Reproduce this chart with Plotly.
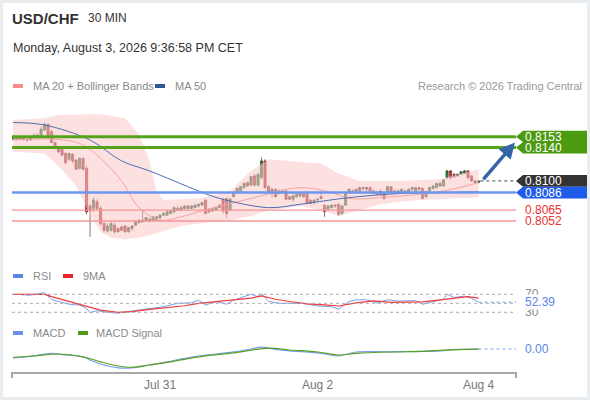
import plotly.graph_objects as go

# USD/CHF 30 min candles
opens = [
    0.8150, 0.8152, 0.8150, 0.8152, 0.8150, 0.8149, 0.8152, 0.8155, 0.8154, 0.8161,
    0.8168, 0.8159, 0.8146, 0.8141, 0.8138, 0.8133, 0.8126, 0.8132, 0.8125, 0.8115,
    0.8127, 0.8115, 0.8070, 0.8067, 0.8075, 0.8067, 0.8049, 0.8040, 0.8041, 0.8047,
    0.8043, 0.8045, 0.8046, 0.8039, 0.8046, 0.8047, 0.8050, 0.8051, 0.8052, 0.8054,
    0.8053, 0.8053, 0.8056, 0.8059, 0.8059, 0.8061, 0.8063, 0.8067, 0.8065, 0.8067,
    0.8070, 0.8067, 0.8068, 0.8070, 0.8071, 0.8077, 0.8063, 0.8067, 0.8065, 0.8068,
    0.8078, 0.8079, 0.8065, 0.8081, 0.8086, 0.8087, 0.8092, 0.8098, 0.8095, 0.8106,
    0.8095, 0.8104, 0.8124, 0.8093, 0.8086, 0.8090, 0.8085, 0.8088, 0.8088, 0.8081,
    0.8078, 0.8081, 0.8082, 0.8085, 0.8085, 0.8077, 0.8074, 0.8077, 0.8081, 0.8071,
    0.8066, 0.8068, 0.8071, 0.8072, 0.8061, 0.8071, 0.8086, 0.8086, 0.8090, 0.8088,
    0.8092, 0.8090, 0.8092, 0.8088, 0.8084, 0.8088, 0.8085, 0.8086, 0.8093, 0.8088,
    0.8085, 0.8087, 0.8088, 0.8086, 0.8090, 0.8087, 0.8092, 0.8091, 0.8081, 0.8088,
    0.8091, 0.8092, 0.8094, 0.8094, 0.8104, 0.8112, 0.8108, 0.8106, 0.8108, 0.8109,
    0.8112, 0.8106, 0.8100, 0.8098,
]
highs = [
    0.8153, 0.8153, 0.8153, 0.8153, 0.8152, 0.8153, 0.8157, 0.8157, 0.8165, 0.8170,
    0.8169, 0.8161, 0.8147, 0.8142, 0.8139, 0.8134, 0.8134, 0.8133, 0.8126, 0.8128,
    0.8128, 0.8118, 0.8072, 0.8080, 0.8078, 0.8070, 0.8051, 0.8049, 0.8051, 0.8050,
    0.8044, 0.8046, 0.8047, 0.8045, 0.8047, 0.8052, 0.8054, 0.8065, 0.8057, 0.8056,
    0.8058, 0.8058, 0.8060, 0.8063, 0.8064, 0.8065, 0.8070, 0.8070, 0.8070, 0.8071,
    0.8071, 0.8071, 0.8072, 0.8073, 0.8075, 0.8078, 0.8067, 0.8068, 0.8070, 0.8072,
    0.8080, 0.8080, 0.8080, 0.8087, 0.8092, 0.8094, 0.8098, 0.8099, 0.8106, 0.8108,
    0.8109, 0.8128, 0.8126, 0.8095, 0.8092, 0.8091, 0.8090, 0.8090, 0.8090, 0.8082,
    0.8084, 0.8085, 0.8086, 0.8086, 0.8086, 0.8078, 0.8078, 0.8079, 0.8088, 0.8072,
    0.8071, 0.8072, 0.8072, 0.8073, 0.8071, 0.8086, 0.8091, 0.8090, 0.8091, 0.8093,
    0.8093, 0.8093, 0.8093, 0.8090, 0.8088, 0.8090, 0.8086, 0.8094, 0.8094, 0.8090,
    0.8090, 0.8091, 0.8090, 0.8091, 0.8093, 0.8093, 0.8093, 0.8092, 0.8088, 0.8093,
    0.8095, 0.8098, 0.8099, 0.8102, 0.8113, 0.8113, 0.8109, 0.8109, 0.8112, 0.8113,
    0.8113, 0.8107, 0.8101, 0.8101,
]
lows = [
    0.8149, 0.8149, 0.8149, 0.8148, 0.8147, 0.8148, 0.8150, 0.8152, 0.8153, 0.8160,
    0.8153, 0.8145, 0.8138, 0.8133, 0.8129, 0.8120, 0.8124, 0.8121, 0.8113, 0.8114,
    0.8112, 0.8060, 0.8033, 0.8063, 0.8065, 0.8046, 0.8038, 0.8038, 0.8039, 0.8037,
    0.8038, 0.8040, 0.8038, 0.8038, 0.8040, 0.8046, 0.8049, 0.8050, 0.8051, 0.8051,
    0.8052, 0.8052, 0.8054, 0.8058, 0.8058, 0.8060, 0.8061, 0.8064, 0.8064, 0.8066,
    0.8066, 0.8066, 0.8067, 0.8068, 0.8070, 0.8060, 0.8061, 0.8063, 0.8064, 0.8067,
    0.8061, 0.8056, 0.8064, 0.8080, 0.8085, 0.8086, 0.8091, 0.8093, 0.8094, 0.8093,
    0.8093, 0.8102, 0.8090, 0.8085, 0.8080, 0.8080, 0.8084, 0.8085, 0.8077, 0.8077,
    0.8075, 0.8080, 0.8080, 0.8080, 0.8072, 0.8072, 0.8072, 0.8075, 0.8078, 0.8057,
    0.8065, 0.8067, 0.8068, 0.8058, 0.8059, 0.8070, 0.8085, 0.8085, 0.8086, 0.8087,
    0.8088, 0.8088, 0.8087, 0.8084, 0.8082, 0.8082, 0.8077, 0.8085, 0.8085, 0.8084,
    0.8084, 0.8086, 0.8084, 0.8085, 0.8088, 0.8086, 0.8088, 0.8078, 0.8080, 0.8087,
    0.8090, 0.8091, 0.8093, 0.8093, 0.8102, 0.8102, 0.8104, 0.8105, 0.8107, 0.8108,
    0.8102, 0.8099, 0.8097, 0.8097,
]
closes = [
    0.8152, 0.8150, 0.8152, 0.8150, 0.8149, 0.8152, 0.8155, 0.8154, 0.8162, 0.8168,
    0.8155, 0.8146, 0.8140, 0.8135, 0.8131, 0.8122, 0.8133, 0.8124, 0.8114, 0.8127,
    0.8114, 0.8063, 0.8064, 0.8077, 0.8067, 0.8049, 0.8041, 0.8046, 0.8049, 0.8039,
    0.8039, 0.8041, 0.8039, 0.8044, 0.8043, 0.8051, 0.8053, 0.8053, 0.8056, 0.8052,
    0.8057, 0.8057, 0.8059, 0.8061, 0.8063, 0.8064, 0.8068, 0.8065, 0.8068, 0.8070,
    0.8067, 0.8070, 0.8071, 0.8072, 0.8074, 0.8061, 0.8066, 0.8064, 0.8068, 0.8071,
    0.8064, 0.8061, 0.8078, 0.8086, 0.8091, 0.8093, 0.8097, 0.8094, 0.8105, 0.8095,
    0.8108, 0.8124, 0.8092, 0.8087, 0.8090, 0.8081, 0.8088, 0.8086, 0.8078, 0.8078,
    0.8082, 0.8084, 0.8085, 0.8081, 0.8073, 0.8073, 0.8077, 0.8078, 0.8079, 0.8063,
    0.8070, 0.8071, 0.8070, 0.8060, 0.8070, 0.8085, 0.8090, 0.8088, 0.8087, 0.8092,
    0.8091, 0.8092, 0.8088, 0.8085, 0.8087, 0.8084, 0.8079, 0.8093, 0.8086, 0.8085,
    0.8088, 0.8090, 0.8085, 0.8090, 0.8092, 0.8092, 0.8090, 0.8079, 0.8087, 0.8092,
    0.8094, 0.8097, 0.8097, 0.8101, 0.8112, 0.8104, 0.8105, 0.8108, 0.8111, 0.8112,
    0.8104, 0.8100, 0.8098, 0.8100,
]

# Bollinger bands / moving averages (sampled at candle indices)
band_idx = [0, 9, 13, 18, 22, 25, 28, 32, 36, 39, 41, 43, 48, 53, 62, 68, 73, 79,
            82, 88, 93, 99, 105, 111, 116, 122, 125, 133]
bb_upper = [0.8173, 0.8175, 0.8179, 0.8180, 0.8180, 0.8180, 0.8178, 0.8175, 0.8156,
            0.8124, 0.8088, 0.8077, 0.8078, 0.8079, 0.8088, 0.8112, 0.8126, 0.8124,
            0.8123, 0.8121, 0.8109, 0.8100, 0.8100, 0.8100, 0.8101, 0.8102, 0.8106, 0.8114]
bb_lower = [0.8135, 0.8133, 0.8118, 0.8094, 0.8059, 0.8039, 0.8032, 0.8030, 0.8032,
            0.8035, 0.8037, 0.8040, 0.8046, 0.8049, 0.8053, 0.8058, 0.8065, 0.8068,
            0.8070, 0.8065, 0.8058, 0.8065, 0.8072, 0.8075, 0.8077, 0.8078, 0.8079, 0.8080]
ma20_idx = [0, 11, 19, 25, 31, 36, 42, 48, 53, 68, 82, 91, 96, 105, 123, 133]
ma20 = [0.8149, 0.8150, 0.8145, 0.8127, 0.8100, 0.8068, 0.8053, 0.8057, 0.8063,
        0.8079, 0.8092, 0.8086, 0.8079, 0.8080, 0.8088, 0.8098]
ma50_idx = [0, 9, 22, 31, 39, 53, 59, 73, 82, 96, 111, 122, 133]
ma50 = [0.8170, 0.8167, 0.8149, 0.8124, 0.8112, 0.8088, 0.8079, 0.8068, 0.8072,
        0.8080, 0.8085, 0.8086, 0.8087]

# RSI panel
rsi_idx = [0, 5, 9, 11, 13, 16, 19, 21, 22, 24, 27, 30, 33, 36, 39, 43, 47, 51, 53, 55,
           58, 61, 63, 68, 70, 71, 73, 76, 79, 83, 87, 91, 93, 96, 98, 101, 104, 107, 110,
           113, 115, 117, 120, 123, 124, 126, 129, 131, 133]
rsi = [70, 68, 73.6, 58.6, 54, 48, 46, 39, 29, 33.6, 30, 28, 31.6, 35, 39, 42.6, 50, 51, 57, 46,
       54, 48, 57, 70, 64.8, 72, 54, 50, 50, 50, 44, 42.6, 36.7, 54, 57.8, 57.8, 51, 57.8, 55,
       55, 56, 48, 54, 59, 70, 63, 66, 61, 52.39]
rsi_ma_idx = [0, 9, 11, 16, 21, 25, 30, 34, 39, 44, 49, 53, 58, 63, 68, 71, 75, 79, 84, 89,
              93, 98, 103, 108, 113, 117, 122, 127, 130, 133]
rsi_ma = [70, 70, 65, 54, 43, 35, 30, 31.5, 36.7, 40, 44.6, 50, 54, 57.8, 61.5, 66.7, 59, 54,
          48.9, 46.7, 44, 51, 55.6, 52, 52, 53, 57.8, 61.5, 65, 61.5]
rsi_levels = [70, 50, 30]

# MACD panel
macd_idx = [0, 6, 11, 15, 20, 22, 25, 30, 34, 39, 44, 49, 53, 58, 63, 68, 71, 75, 79, 87,
            93, 98, 108, 117, 122, 127, 133]
macd = [-0.00044, -0.00034, -0.00022, -0.00030, -0.00039, -0.00055, -0.00075, -0.00094,
        -0.00094, -0.00080, -0.00064, -0.00047, -0.00035, -0.00025, -0.00014, 0.0, 0.00009,
        -0.00002, -0.00009, -0.00019, -0.00034, -0.00015, -0.00014, -0.00012, -0.00009,
        -0.00002, 0.0]
signal_idx = [0, 6, 13, 20, 25, 30, 34, 39, 44, 53, 63, 73, 79, 87, 93, 98, 108, 117, 127, 133]
signal = [-0.00042, -0.00035, -0.00025, -0.00039, -0.00064, -0.00085, -0.00092, -0.00080,
          -0.00067, -0.00039, -0.00019, 0.00004, -0.00005, -0.00015, -0.00030, -0.00022,
          -0.00015, -0.00012, -0.00003, -0.00001]

# key levels
resistances = [0.8153, 0.8140]
pivot = 0.8086
supports = [0.8065, 0.8052]
last_price = 0.8100
target = 0.8146

x_ticks = [42, 87, 133]
x_labels = ["Jul 31", "Aug 2", "Aug 4"]

W, H = 590, 400
FONT = "Liberation Sans, Arial, sans-serif"
X_RANGE = [-0.3, 143.7]
Y_RANGE = [0.80292, 0.81850]


def px(v):
    return v / W


def py(v):
    return 1 - v / H


idx = list(range(len(closes)))
last_i = idx[-1]

fig = go.Figure()

# main price panel
fig.add_trace(go.Scatter(x=band_idx, y=bb_upper, mode="lines", line=dict(width=0),
                         hoverinfo="skip"))
fig.add_trace(go.Scatter(x=band_idx, y=bb_lower, mode="lines", line=dict(width=0),
                         fill="tonexty", fillcolor="rgba(252,200,200,0.55)", hoverinfo="skip"))
fig.add_trace(go.Scatter(x=ma20_idx, y=ma20, mode="lines",
                         line=dict(color="#f5a3a3", width=1, shape="spline")))
fig.add_trace(go.Scatter(x=ma50_idx, y=ma50, mode="lines",
                         line=dict(color="#4a70b3", width=1, shape="spline")))
fig.add_trace(go.Candlestick(
    x=idx, open=opens, high=highs, low=lows, close=closes,
    increasing=dict(line=dict(color="#25482b", width=0.7), fillcolor="#2a8a3c"),
    decreasing=dict(line=dict(color="#6a2a2a", width=0.7), fillcolor="#e2262a"),
    whiskerwidth=0,
))

# RSI panel
fig.add_trace(go.Scatter(x=rsi_idx, y=rsi, mode="lines", xaxis="x2", yaxis="y2",
                         line=dict(color="#7b9ff0", width=1)))
fig.add_trace(go.Scatter(x=rsi_ma_idx, y=rsi_ma, mode="lines", xaxis="x2", yaxis="y2",
                         line=dict(color="#ee3b3b", width=1.2)))

# MACD panel
fig.add_trace(go.Scatter(x=macd_idx, y=macd, mode="lines", xaxis="x3", yaxis="y3",
                         line=dict(color="#7b9ff0", width=1.2, shape="spline")))
fig.add_trace(go.Scatter(x=signal_idx, y=signal, mode="lines", xaxis="x3", yaxis="y3",
                         line=dict(color="#5aa020", width=1.2, shape="spline")))

shapes = []
# level lines
for lv in resistances:
    shapes.append(dict(type="line", xref="x", yref="y", x0=X_RANGE[0], x1=X_RANGE[1], y0=lv, y1=lv,
                       line=dict(color="#55a31b", width=3), layer="above"))
shapes.append(dict(type="line", xref="x", yref="y", x0=X_RANGE[0], x1=X_RANGE[1], y0=pivot, y1=pivot,
                   line=dict(color="#6d97ef", width=2.5), layer="above"))
for lv in supports:
    shapes.append(dict(type="line", xref="x", yref="y", x0=X_RANGE[0], x1=X_RANGE[1], y0=lv, y1=lv,
                       line=dict(color="#f59595", width=1.3), layer="above"))
shapes.append(dict(type="line", xref="x", yref="y", x0=last_i + 0.5, x1=X_RANGE[1],
                   y0=last_price, y1=last_price, line=dict(color="#444", width=1, dash="dot")))

# RSI guides
for lv in rsi_levels:
    shapes.append(dict(type="line", xref="x2", yref="y2", x0=X_RANGE[0], x1=X_RANGE[1], y0=lv, y1=lv,
                       line=dict(color="#aaaaaa", width=1, dash="dot")))
shapes.append(dict(type="line", xref="x2", yref="y2", x0=last_i, x1=X_RANGE[1],
                   y0=rsi[-1], y1=rsi[-1], line=dict(color="#7b9ff0", width=1, dash="dot")))
shapes.append(dict(type="line", xref="x3", yref="y3", x0=last_i, x1=X_RANGE[1],
                   y0=macd[-1], y1=macd[-1], line=dict(color="#7b9ff0", width=1, dash="dot")))

# price tags on the right
half = 0.0007
tip, body, right = px(516), px(523), px(590)
g_top, g_bot = resistances[0] + half, resistances[1] - half
g_mid = (resistances[0] + resistances[1]) / 2
shapes.append(dict(type="path", xref="paper", yref="y", fillcolor="#4c9a10", line=dict(width=0),
                   path=f"M {body},{g_top} L {tip},{resistances[0]} L {body},{g_mid} "
                        f"L {tip},{resistances[1]} L {body},{g_bot} L {right},{g_bot} L {right},{g_top} Z"))
for lv, col in [(last_price, "#333333"), (pivot, "#1f5bea")]:
    shapes.append(dict(type="path", xref="paper", yref="y", fillcolor=col, line=dict(width=0),
                       path=f"M {body},{lv + half} L {tip},{lv} L {body},{lv - half} "
                            f"L {right},{lv - half} L {right},{lv + half} Z"))

# legend swatches
for x0, y0, col in [(13, 86, "#f98b8b"), (155, 86, "#2f5597"), (13, 276, "#5b86e5"),
                    (63, 276, "#e8232a"), (13, 333, "#6a8fe8"), (78, 333, "#4f9a16")]:
    shapes.append(dict(type="rect", xref="paper", yref="paper", x0=px(x0), x1=px(x0 + 10),
                       y0=py(y0 + 2), y1=py(y0 - 2), fillcolor=col, line=dict(width=0)))

# x-axis end caps
for xe in (12, 516):
    shapes.append(dict(type="line", xref="paper", yref="paper", x0=px(xe), x1=px(xe),
                       y0=py(372), y1=py(378), line=dict(color="#a8a8a8", width=2)))

# frame
shapes.append(dict(type="rect", xref="paper", yref="paper", x0=0, x1=1, y0=0, y1=1,
                   line=dict(color="#e9edf0", width=6), layer="above"))

ann = []


def text(x, y, s, size=11, color="#888", anchor="left", bold=False, bg=None):
    ann.append(dict(x=px(x), y=py(y), xref="paper", yref="paper", text=f"<b>{s}</b>" if bold else s,
                    showarrow=False, xanchor=anchor, yanchor="middle", bgcolor=bg, borderpad=0,
                    font=dict(family=FONT, size=size, color=color)))


text(11, 19, "USD/CHF", 15, "#333", bold=True)
text(87, 18, "30 MIN", 12, "#333")
text(12, 48, "Monday, August 3, 2026 9:36:58 PM CET", 12.5, "#333")
text(32, 86, "MA 20 + Bollinger Bands", 11, "#8a8a8a")
text(174, 86, "MA 50", 11, "#8a8a8a")
text(583, 86, "Research © 2026 Trading Central", 11, "#9a9a9a", anchor="right")
text(32, 276, "RSI", 11, "#8a8a8a")
text(82, 276, "9MA", 11, "#8a8a8a")
text(32, 333, "MACD", 11, "#8a8a8a")
text(95, 333, "MACD Signal", 11, "#8a8a8a")


def tag(y, yref, s, color, bg=None):
    ann.append(dict(x=px(524), y=y, xref="paper", yref=yref, text=s, showarrow=False,
                    xanchor="left", yanchor="middle", bgcolor=bg, borderpad=0,
                    font=dict(family=FONT, size=12, color=color)))


for lv in resistances:
    tag(lv, "y", f"{lv:.4f}", "white")
tag(last_price, "y", f"{last_price:.4f}", "white")
tag(pivot, "y", f"{pivot:.4f}", "white")
for lv in supports:
    tag(lv, "y", f"{lv:.4f}", "#e8312f")
tag(rsi_levels[0], "y2", "70", "#8a8a8a")
tag(rsi_levels[2], "y2", "30", "#8a8a8a")
tag(rsi[-1], "y2", f"{rsi[-1]:.2f}", "#5b86e5", bg="white")
tag(macd[-1], "y3", f"{macd[-1]:.2f}", "#5b86e5")

# forecast arrow
ann.append(dict(x=X_RANGE[1] - 0.3, y=target, ax=last_i + 1, ay=last_price, xref="x", yref="y",
                axref="x", ayref="y", text="", showarrow=True, arrowhead=2, arrowsize=0.9,
                arrowwidth=3.5, arrowcolor="#3463a6"))

hidden = dict(visible=False, showgrid=False, zeroline=False)
xdom = [px(12), px(516)]

fig.update_layout(
    width=W, height=H, margin=dict(l=0, r=0, t=0, b=0),
    paper_bgcolor="white", plot_bgcolor="white", showlegend=False,
    boxgap=0.12,
    xaxis=dict(domain=xdom, range=X_RANGE, anchor="y", rangeslider=dict(visible=False), **hidden),
    yaxis=dict(domain=[py(240), py(110)], range=Y_RANGE, anchor="x", **hidden),
    xaxis2=dict(domain=xdom, range=X_RANGE, anchor="y2", **hidden),
    yaxis2=dict(domain=[py(320), py(285)], range=[12.9, 90.7], anchor="x2", **hidden),
    xaxis3=dict(domain=xdom, range=X_RANGE, anchor="y3", showgrid=False, zeroline=False,
                showline=True, linecolor="#a8a8a8", linewidth=2, ticks="outside", ticklen=0,
                tickvals=x_ticks, ticktext=x_labels, ticklabelstandoff=1,
                tickfont=dict(family=FONT, size=12, color="#777")),
    yaxis3=dict(domain=[py(372), py(340)], range=[-0.00115, 0.00045], anchor="x3", **hidden),
    shapes=shapes,
    annotations=ann,
)

fig.write_html("out.html", config={"displayModeBar": False},
               post_script="document.body.style.margin='0px';")
